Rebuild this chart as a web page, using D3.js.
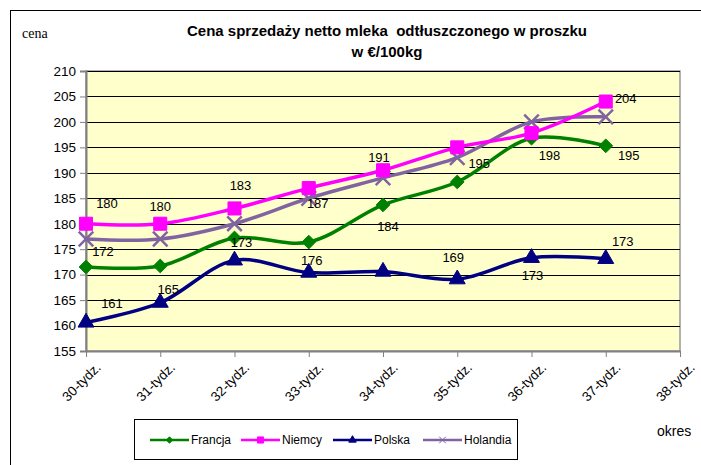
<!DOCTYPE html>
<html>
<head>
<meta charset="utf-8">
<script src="https://cdn.jsdelivr.net/npm/d3@7"></script>
<style>
  body { margin: 0; background: #fff; }
  text { font-family: "Liberation Sans", Arial, sans-serif; }
</style>
</head>
<body>
<div id="chart"></div>
<script>
// categories (weeks)
const weeks = ["30-tydz.", "31-tydz.", "32-tydz.", "33-tydz.", "34-tydz.", "35-tydz.", "36-tydz.", "37-tydz.", "38-tydz."];
const yTicks = [155, 160, 165, 170, 175, 180, 185, 190, 195, 200, 205, 210];

// series values
const francja  = [171.5, 171.7, 177.2, 176.4, 183.7, 188.2, 196.8, 195.3];
const niemcy   = [180, 180, 183, 187, 190.5, 195, 197.8, 204];
const polska   = [160.6, 164.5, 172.8, 170.4, 170.6, 169.1, 173.3, 173.1];
const holandia = [177, 177, 180, 185, 189, 193, 200, 201];

// data labels: series, week index, text
const labels = [
  ["Niemcy", 0, "180"], ["Niemcy", 1, "180"], ["Niemcy", 2, "183"], ["Niemcy", 3, "187"],
  ["Niemcy", 4, "191"], ["Niemcy", 5, "195"], ["Niemcy", 6, "198"], ["Niemcy", 7, "204"],
  ["Francja", 0, "172"], ["Francja", 3, "176"], ["Francja", 4, "184"], ["Francja", 7, "195"],
  ["Polska", 0, "161"], ["Polska", 1, "165"], ["Polska", 2, "173"], ["Polska", 5, "169"],
  ["Polska", 6, "173"], ["Polska", 7, "173"]
];
// label offsets from the point (px), same order as labels
const labelOffsets = [
  [21, -20], [0, -17], [6, -23], [9, 15], [-4, -13], [22, 16], [18, 22], [20, -3],
  [17, -16], [3, 18], [5, 22], [23, 10],
  [26, -19], [8, -13], [7, -18], [-4, -22], [1, 18], [17, -17]
];

const W = 701, H = 465;
const margin = {top: 71, right: 21, bottom: 114, left: 86};
const width = W - margin.left - margin.right,
      height = H - margin.top - margin.bottom;

const svg = d3.select("#chart").append("svg")
    .attr("width", W)
    .attr("height", H);

// outer frame
svg.append("rect")
    .attr("x", 10.5).attr("y", 10.5)
    .attr("width", 700).attr("height", 460)
    .attr("fill", "none").attr("stroke", "#000").attr("stroke-width", 1);

// title
svg.append("text")
    .attr("x", 387).attr("y", 36)
    .attr("text-anchor", "middle")
    .style("font-size", "15px").style("font-weight", "bold")
    .style("white-space", "pre")
    .text("Cena sprzedaży netto mleka  odtłuszczonego w proszku");
svg.append("text")
    .attr("x", 387).attr("y", 57)
    .attr("text-anchor", "middle")
    .style("font-size", "15px").style("font-weight", "bold")
    .text("w €/100kg");

svg.append("text")
    .attr("x", 22).attr("y", 38)
    .style("font-family", "'Liberation Serif', 'Times New Roman', serif")
    .style("font-size", "14px")
    .text("cena");

svg.append("text")
    .attr("x", 657).attr("y", 436)
    .style("font-size", "14px")
    .text("okres");

const chart = svg.append("g")
    .attr("transform", "translate(" + margin.left + "," + margin.top + ")");

const x = d3.scalePoint()
    .domain(weeks)
    .range([0, width]);

const y = d3.scaleLinear()
    .domain([155, 210])
    .range([height, 0]);

// plot area
chart.append("rect")
    .attr("width", width).attr("height", height)
    .attr("fill", "#ffffcc")
    .attr("stroke", "#999").attr("stroke-width", 1.5);

// gridlines
chart.append("g")
    .selectAll("line")
    .data(yTicks.filter(d => d > 155))
    .join("line")
      .attr("x1", 0).attr("x2", width)
      .attr("y1", d => Math.round(y(d)) + 0.5).attr("y2", d => Math.round(y(d)) + 0.5)
      .attr("stroke", "#000").attr("stroke-width", 1);

// Y axis
const yAxis = chart.append("g")
    .call(d3.axisLeft(y).tickValues(yTicks).tickSize(6).tickPadding(4));
yAxis.select(".domain").attr("stroke", "#808080").attr("stroke-width", 2);
yAxis.selectAll(".tick line").attr("stroke", "#808080");
yAxis.selectAll(".tick text")
    .style("font-size", "13.5px").attr("fill", "#000")
    .style("font-family", "'Liberation Sans', Arial, sans-serif");

// X axis
const xAxis = chart.append("g")
    .attr("transform", "translate(0," + height + ")")
    .call(d3.axisBottom(x).tickSize(6).tickSizeOuter(0));
xAxis.select(".domain").attr("stroke", "#808080").attr("stroke-width", 2);
xAxis.selectAll(".tick line").attr("stroke", "#808080");
xAxis.selectAll(".tick text")
    .style("font-size", "13.5px").attr("fill", "#000")
    .style("font-family", "'Liberation Sans', Arial, sans-serif")
    .attr("text-anchor", "end")
    .attr("dy", "0.3em")
    .attr("transform", "translate(6,8) rotate(-45)");

// series
const series = [
  {name: "Francja",  values: francja,  color: "#008000", marker: d3.symbolDiamond2, size: 120},
  {name: "Niemcy",   values: niemcy,   color: "#ff00ff", marker: d3.symbolSquare,   size: 170},
  {name: "Polska",   values: polska,   color: "#000080", marker: d3.symbolTriangle, size: 110},
  {name: "Holandia", values: holandia, color: "#8064a2", marker: d3.symbolX,        size: 140}
];

const line = d3.line()
    .x((d, i) => x(weeks[i]))
    .y(d => y(d))
    .curve(d3.curveCatmullRom.alpha(0.5));

// draw in order so the top ones sit like in the picture
const drawOrder = ["Francja", "Polska", "Holandia", "Niemcy"];
drawOrder.forEach(function (name) {
  const s = series.find(d => d.name === name);
  const g = chart.append("g");
  g.append("path")
      .datum(s.values)
      .attr("d", line)
      .attr("fill", "none")
      .attr("stroke", s.color)
      .attr("stroke-width", 3.5);
  g.selectAll("path.marker")
      .data(s.values)
      .join("path")
        .attr("class", "marker")
        .attr("transform", (d, i) => "translate(" + x(weeks[i]) + "," + y(d) + ")")
        .attr("d", d3.symbol().type(s.marker).size(s.size))
        .attr("fill", s.marker === d3.symbolX ? "none" : s.color)
        .attr("stroke", s.color)
        .attr("stroke-width", s.marker === d3.symbolX ? 2.5 : 1);
});

// data labels
chart.append("g")
    .selectAll("text")
    .data(labels)
    .join("text")
      .attr("x", (d, i) => x(weeks[d[1]]) + labelOffsets[i][0])
      .attr("y", (d, i) => y(series.find(s => s.name === d[0]).values[d[1]]) + labelOffsets[i][1])
      .attr("text-anchor", "middle")
      .attr("dy", "0.35em")
      .style("font-size", "13px")
      .attr("fill", "#000")
      .text(d => d[2]);

// legend
const legend = svg.append("g");
legend.append("rect")
    .attr("x", 134.5).attr("y", 419.5)
    .attr("width", 383).attr("height", 40)
    .attr("fill", "#fff").attr("stroke", "#000").attr("stroke-width", 1);

const legendX = [150, 241, 333, 423];
series.forEach(function (s, i) {
  const g = legend.append("g").attr("transform", "translate(" + legendX[i] + ",440)");
  g.append("line")
      .attr("x1", 0).attr("x2", 39)
      .attr("stroke", s.color).attr("stroke-width", 2.5);
  g.append("path")
      .attr("transform", "translate(19.5,0)")
      .attr("d", d3.symbol().type(s.marker).size(s.size * 0.22))
      .attr("fill", s.marker === d3.symbolX ? "none" : s.color)
      .attr("stroke", s.color)
      .attr("stroke-width", 1);
  g.append("text")
      .attr("x", 41).attr("dy", "0.35em")
      .style("font-size", "12px")
      .text(s.name);
});
</script>
</body>
</html>
